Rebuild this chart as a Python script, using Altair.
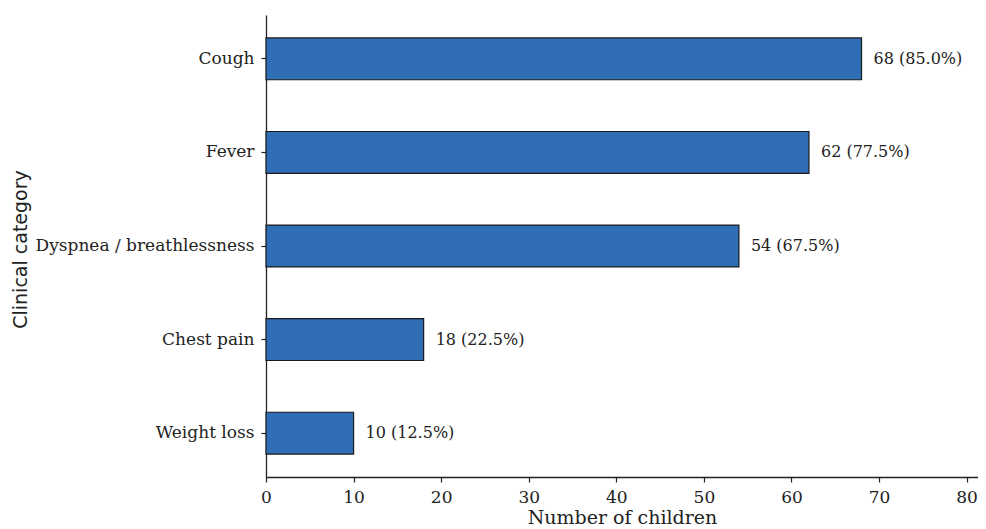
import altair as alt
import pandas as pd

categories = ["Cough", "Fever", "Dyspnea / breathlessness", "Chest pain", "Weight loss"]
counts = [68, 62, 54, 18, 10]
percents = [85.0, 77.5, 67.5, 22.5, 12.5]
x_ticks = [0, 10, 20, 30, 40, 50, 60, 70, 80]

df = pd.DataFrame({"category": categories, "count": counts, "pct": percents})
df["label"] = [f"{c} ({p:.1f}%)" for c, p in zip(counts, percents)]

SERIF = "DejaVu Serif"
INK = "#222222"

y_enc = alt.Y(
    "category:N",
    sort=categories,
    scale=alt.Scale(paddingInner=0.553, paddingOuter=0.245),
    axis=alt.Axis(
        title="Clinical category",
        titleFont="DejaVu Sans",
        titleFontSize=19,
        titleFontWeight="normal",
        titleColor=INK,
        titleX=-255,
        titleY=234,
        titleAngle=270,
        titleBaseline="top",
        titleAlign="center",
        labelFont=SERIF,
        labelFontSize=17,
        labelColor=INK,
        labelPadding=7,
        labelLimit=0,
        tickSize=5,
        tickColor=INK,
        domainColor=INK,
        domainWidth=1.3,
        tickWidth=1.2,
        grid=False,
    ),
)

x_enc = alt.X(
    "count:Q",
    scale=alt.Scale(domain=[0, 81.3], nice=False, zero=True),
    axis=alt.Axis(
        title="Number of children",
        titleFont=SERIF,
        titleFontSize=19,
        titleFontWeight="normal",
        titleColor=INK,
        titlePadding=3,
        values=x_ticks,
        labelFont=SERIF,
        labelFontSize=17,
        labelColor=INK,
        labelPadding=7,
        labelFlush=False,
        tickSize=5,
        tickColor=INK,
        domainColor=INK,
        domainWidth=1.3,
        tickWidth=1.2,
        grid=False,
    ),
)

bars = alt.Chart(df).mark_bar(
    color="#2f6db5", stroke="#1a1a1a", strokeWidth=1.2
).encode(x=x_enc, y=y_enc)

labels = alt.Chart(df).mark_text(
    align="left", baseline="middle", dx=12, font=SERIF, fontSize=16, color=INK
).encode(
    x=alt.X("count:Q"),
    y=alt.Y("category:N", sort=categories),
    text="label:N",
)

chart = (
    alt.layer(bars, labels)
    .properties(
        width=712,
        height=462,
        autosize=alt.AutoSizeParams(type="none"),
        padding={"left": 258, "top": 7, "right": 0, "bottom": 52},
        background="white",
    )
    .configure_view(strokeWidth=0, stroke="transparent")
)

chart.save("out.html", embed_options={"renderer": "svg", "actions": False})
